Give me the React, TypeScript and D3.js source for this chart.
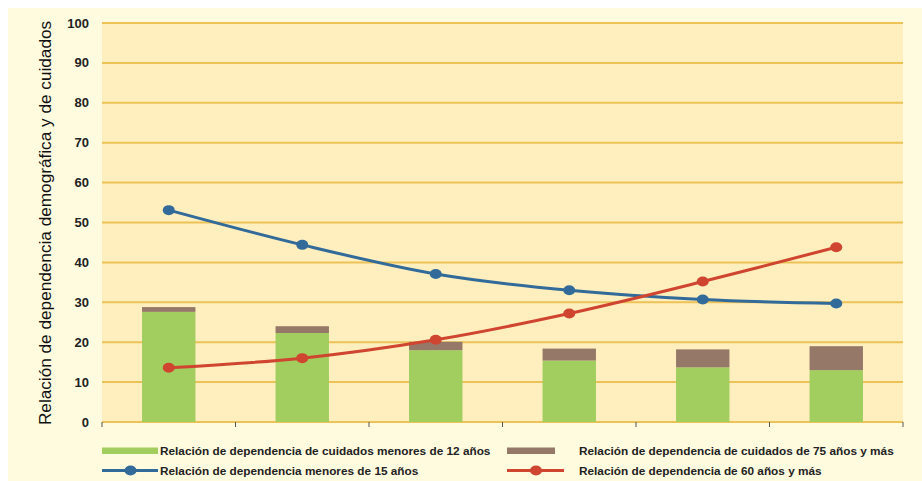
import React from "react";
import * as d3 from "d3";

const categories = ["1", "2", "3", "4", "5", "6"];
const careUnder12 = [27.6, 22.3, 18.0, 15.4, 13.7, 13.0];
const care75plus = [1.2, 1.7, 2.1, 3.0, 4.5, 6.0];
const depUnder15 = [53.1, 44.4, 37.1, 33.0, 30.7, 29.7];
const dep60plus = [13.6, 16.0, 20.6, 27.2, 35.2, 43.8];
const yTicks = [0, 10, 20, 30, 40, 50, 60, 70, 80, 90, 100];

const legendLabels = [
  "Relación de dependencia de cuidados menores de 12 años",
  "Relación de dependencia de cuidados de 75 años y más",
  "Relación de dependencia menores de 15 años",
  "Relación de dependencia de 60 años y más",
];

const W = 922;
const H = 481;
const plot = { left: 102, right: 903, top: 23, bottom: 422 };

const GREEN = "#A2CD5F";
const BROWN = "#967868";
const BLUE = "#326A9A";
const RED = "#CF4530";
const GRID = "#EDC257";
const FONT = "Arial, 'Liberation Sans', Helvetica, sans-serif";

export default function App() {
  const x = d3
    .scaleBand<string>()
    .domain(categories)
    .range([plot.left, plot.right])
    .paddingInner(0.6)
    .paddingOuter(0.3);
  const xCenter = d3
    .scalePoint<string>()
    .domain(categories)
    .range([plot.left, plot.right])
    .padding(0.5);
  const y = d3.scaleLinear().domain([0, 100]).range([plot.bottom, plot.top]);

  const line = d3
    .line<number>()
    .x((_, i) => xCenter(categories[i]) as number)
    .y((d) => y(d))
    .curve(d3.curveCatmullRom.alpha(0.5));

  const step = (plot.right - plot.left) / categories.length;
  const boundaries = d3.range(categories.length + 1).map((i) => plot.left + i * step);

  const legendFont = { fontFamily: FONT, fontSize: 11.8, fontWeight: "bold", fill: "#222" } as const;

  return (
    <svg
      width={W}
      height={H}
      style={{ display: "block", position: "fixed", left: 0, top: 0 }}
    >
      <rect x={0} y={0} width={W} height={H} fill="#ffffff" />
      <rect x={8} y={8} width={W - 8} height={H - 8} fill="#FFFBDF" />
      <rect
        x={plot.left}
        y={plot.top}
        width={plot.right - plot.left}
        height={plot.bottom - plot.top}
        fill="#FFEFBE"
      />
      {yTicks.map((t) => (
        <line
          key={t}
          x1={plot.left}
          x2={plot.right}
          y1={y(t)}
          y2={y(t)}
          stroke={GRID}
          strokeWidth={2}
        />
      ))}
      {boundaries.map((b, i) => (
        <line key={i} x1={b} x2={b} y1={plot.bottom} y2={plot.bottom + 5} stroke="#555" strokeWidth={1} />
      ))}
      {yTicks.map((t) => (
        <text
          key={t}
          x={89}
          y={y(t)}
          dy="0.35em"
          textAnchor="end"
          fontFamily={FONT}
          fontSize={13}
          fontWeight="bold"
          fill="#222"
        >
          {t}
        </text>
      ))}
      <text
        transform={`translate(51, 223) rotate(-90)`}
        textAnchor="middle"
        fontFamily={FONT}
        fontSize={17.2}
        fill="#111"
      >
        Relación de dependencia demográfica y de cuidados
      </text>

      {categories.map((c, i) => (
        <g key={c}>
          <rect
            x={x(c)}
            width={x.bandwidth()}
            y={y(careUnder12[i])}
            height={y(0) - y(careUnder12[i])}
            fill={GREEN}
          />
          <rect
            x={x(c)}
            width={x.bandwidth()}
            y={y(careUnder12[i] + care75plus[i])}
            height={y(careUnder12[i]) - y(careUnder12[i] + care75plus[i])}
            fill={BROWN}
          />
        </g>
      ))}

      <path d={line(depUnder15) || ""} fill="none" stroke={BLUE} strokeWidth={3} />
      <path d={line(dep60plus) || ""} fill="none" stroke={RED} strokeWidth={3} />
      {depUnder15.map((v, i) => (
        <ellipse key={"b" + i} cx={xCenter(categories[i])} cy={y(v)} rx={6} ry={5} fill={BLUE} />
      ))}
      {dep60plus.map((v, i) => (
        <ellipse key={"r" + i} cx={xCenter(categories[i])} cy={y(v)} rx={6} ry={5} fill={RED} />
      ))}

      {/* Legend */}
      <rect x={102} y={447.5} width={56} height={6.5} fill={GREEN} />
      <text x={160} y={455} {...legendFont}>{legendLabels[0]}</text>
      <rect x={507} y={447.5} width={48} height={6.5} fill={BROWN} />
      <text x={579} y={455} {...legendFont}>{legendLabels[1]}</text>

      <line x1={102} x2={158} y1={470.5} y2={470.5} stroke={BLUE} strokeWidth={3} />
      <ellipse cx={130.5} cy={470.5} rx={6} ry={5} fill={BLUE} />
      <text x={160} y={475} {...legendFont}>{legendLabels[2]}</text>
      <line x1={507} x2={564} y1={470.5} y2={470.5} stroke={RED} strokeWidth={3} />
      <ellipse cx={536} cy={470.5} rx={6} ry={5} fill={RED} />
      <text x={579} y={475} {...legendFont}>{legendLabels[3]}</text>
    </svg>
  );
}
